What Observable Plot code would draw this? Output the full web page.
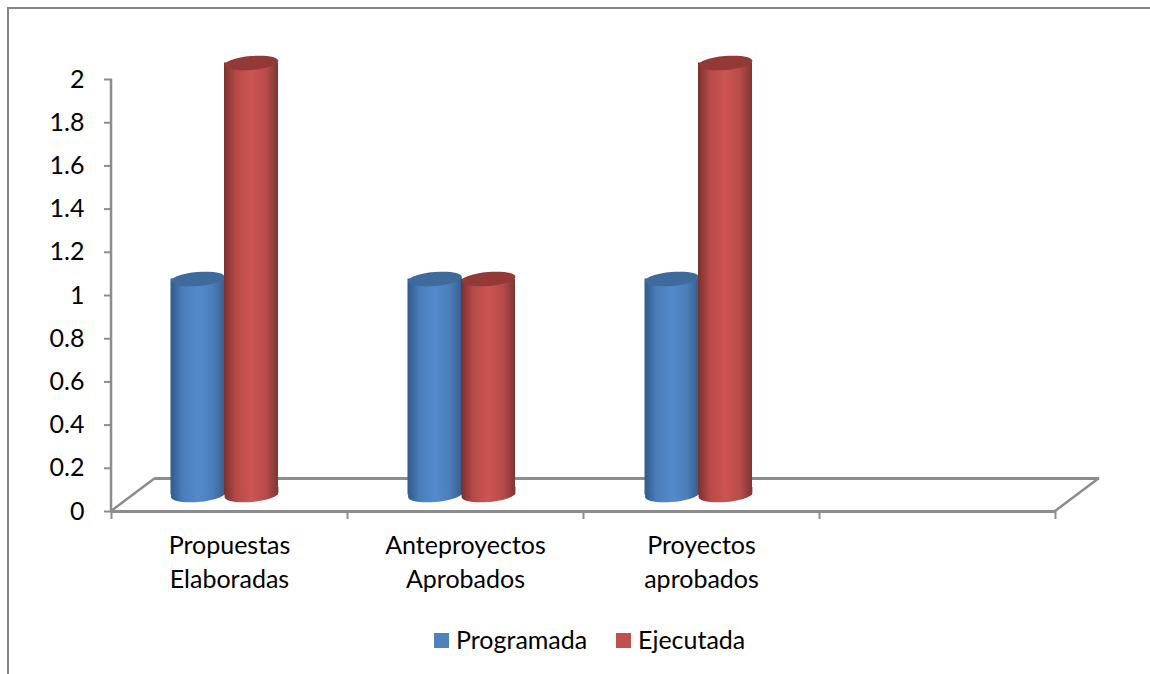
<!DOCTYPE html>
<html lang="es">
<head>
<meta charset="utf-8">
<script src="https://cdn.jsdelivr.net/npm/d3@7"></script>
<script src="https://cdn.jsdelivr.net/npm/@observablehq/plot@0.6"></script>
<style>
html,body{margin:0;padding:0;background:#fff;}
body{width:1150px;height:674px;overflow:hidden;position:relative;font-family:Lato,sans-serif;color:#000;}
#frame{position:absolute;left:7px;top:7px;right:-10px;bottom:-10px;border:2px solid #868686;border-right:none;border-bottom:none;pointer-events:none;}
#chart svg{display:block;}
#legend{height:64px;position:relative;font-size:25px;line-height:30px;}
.item{position:absolute;top:14px;white-space:nowrap;}
.sw{position:absolute;width:15px;height:15px;}
</style>
</head>
<body>
<div id="frame"></div>
<div id="chart"></div>
<div id="legend"></div>
<script>
const categories = ["Propuestas\nElaboradas", "Anteproyectos\nAprobados", "Proyectos\naprobados", ""];
const programada = [1, 1, 1];
const ejecutada = [2, 1, 2];
const yTicks = [0, 0.2, 0.4, 0.6, 0.8, 1, 1.2, 1.4, 1.6, 1.8, 2];
const seriesNames = ["Programada", "Ejecutada"];
const seriesColors = ["#4f81bd", "#c0504d"];

const axisGray = "#8c8c8c";
const W = 1150, H = 610;
const depthX = 44, depthY = -33;
const barW = 54;

// Tilted ellipse geometry, used as custom symbols for Plot.dot
const A = barW / 2, B = 7, T = -5 * Math.PI / 180, K = 0.5523;
const P = (x, y) => [x * Math.cos(T) - y * Math.sin(T), x * Math.sin(T) + y * Math.cos(T)];
const lowerArc = (ctx) => {
  ctx.bezierCurveTo(...P(A, K * B), ...P(K * A, B), ...P(0, B));
  ctx.bezierCurveTo(...P(-K * A, B), ...P(-A, K * B), ...P(-A, 0));
};
const tiltedEllipse = {
  draw(ctx) {
    ctx.moveTo(...P(A, 0));
    lowerArc(ctx);
    ctx.bezierCurveTo(...P(-A, -K * B), ...P(-K * A, -B), ...P(0, -B));
    ctx.bezierCurveTo(...P(K * A, -B), ...P(A, -K * B), ...P(A, 0));
    ctx.closePath();
  }
};
const cylinderFoot = {
  draw(ctx) {
    ctx.moveTo(P(A, 0)[0], -8);
    ctx.lineTo(...P(A, 0));
    lowerArc(ctx);
    ctx.lineTo(P(-A, 0)[0], -8);
    ctx.closePath();
  }
};

const gradient = (id, edge1, mid, edge2) => `<linearGradient id="${id}" x1="0" x2="1" y1="0" y2="0">
  <stop offset="0" stop-color="${edge1}"/><stop offset="0.22" stop-color="${d3.interpolateRgb(edge1, mid)(0.72)}"/>
  <stop offset="0.5" stop-color="${mid}"/><stop offset="0.78" stop-color="${d3.interpolateRgb(edge2, mid)(0.72)}"/>
  <stop offset="1" stop-color="${edge2}"/></linearGradient>`;

const defs = () => {
  const g = document.createElementNS("http://www.w3.org/2000/svg", "defs");
  g.innerHTML = gradient("gradBlue", "#2f5a8c", "#548acc", "#38608e") + gradient("gradRed", "#7a302e", "#cd5452", "#7c3634");
  return g;
};

// Depth edges of the floor and the value axis line, placed through the chart's own scales
const axisFrame = (index, {x, y}) => {
  const left = x(categories[0]), right = x(categories[categories.length - 1]) + x.bandwidth();
  const y0 = y(0);
  const p = document.createElementNS("http://www.w3.org/2000/svg", "path");
  p.setAttribute("d", `M${left},${y(2)}L${left},${y0}M${left},${y0}L${left + depthX},${y0 + depthY}M${right},${y0}L${right + depthX},${y0 + depthY}`);
  p.setAttribute("fill", "none");
  p.setAttribute("stroke", axisGray);
  p.setAttribute("stroke-width", 2.5);
  return p;
};

const cylinders = (vals, dxBar, fillUrl, topColor) => vals.flatMap((value, i) => {
  const data = [{cat: categories[i], value}];
  const inset = (236 - barW) / 2;
  const place = {dx: dxBar + i, dy: depthY / 2};
  return [
    Plot.dot(data, {x: "cat", y: () => 0, symbol: cylinderFoot, r: 5, fill: fillUrl, stroke: "none", ...place}),
    Plot.barY(data, {x: "cat", y: "value", fill: fillUrl, insetLeft: inset, insetRight: inset, ...place}),
    Plot.dot(data, {x: "cat", y: "value", symbol: tiltedEllipse, r: 5, fill: topColor, stroke: "none", ...place})
  ];
});

const chart = Plot.plot({
  width: W,
  height: H,
  marginTop: 79,
  marginBottom: H - 511,
  marginLeft: 111,
  marginRight: W - 1055,
  style: {background: "transparent", fontFamily: "Lato, sans-serif", overflow: "visible"},
  x: {type: "band", domain: categories, padding: 0, label: null},
  y: {domain: [0, 2], label: null},
  marks: [
    defs,
    Plot.ruleY([0], {stroke: axisGray, strokeWidth: 3, dx: depthX, dy: depthY}),
    axisFrame,
    Plot.ruleY([0], {stroke: axisGray, strokeWidth: 3}),
    Plot.axisY({ticks: yTicks, tickFormat: (d) => String(d), tickSize: 8, tickPadding: 20, stroke: axisGray, strokeWidth: 2, fill: "#000", fontSize: 25, label: null, dx: 1}),
    Plot.axisX({ticks: categories, text: null, tickSize: 8, dx: -118, stroke: axisGray, strokeWidth: 2, label: null}),
    Plot.axisX({ticks: categories.slice(-1), text: null, tickSize: 8, dx: 118, stroke: axisGray, strokeWidth: 2, label: null}),
    Plot.axisX({tickSize: 0, tickPadding: 18, fontSize: 25, lineHeight: 1.36, fill: "#000", label: null, tickFormat: (d) => d}),
    ...cylinders(programada, -31.5, "url(#gradBlue)", "#3f6a9c"),
    ...cylinders(ejecutada, 22, "url(#gradRed)", "#933a38")
  ]
});
document.getElementById("chart").appendChild(chart);

const legendX = [[434, 456], [616, 638]];
const legend = document.getElementById("legend");
seriesNames.forEach((name, i) => {
  const sw = document.createElement("div");
  sw.className = "sw";
  sw.style.cssText = `left:${legendX[i][0]}px;top:23px;background:${seriesColors[i]}`;
  const t = document.createElement("div");
  t.className = "item";
  t.style.left = legendX[i][1] + "px";
  t.textContent = name;
  legend.append(sw, t);
});
</script>
</body>
</html>
